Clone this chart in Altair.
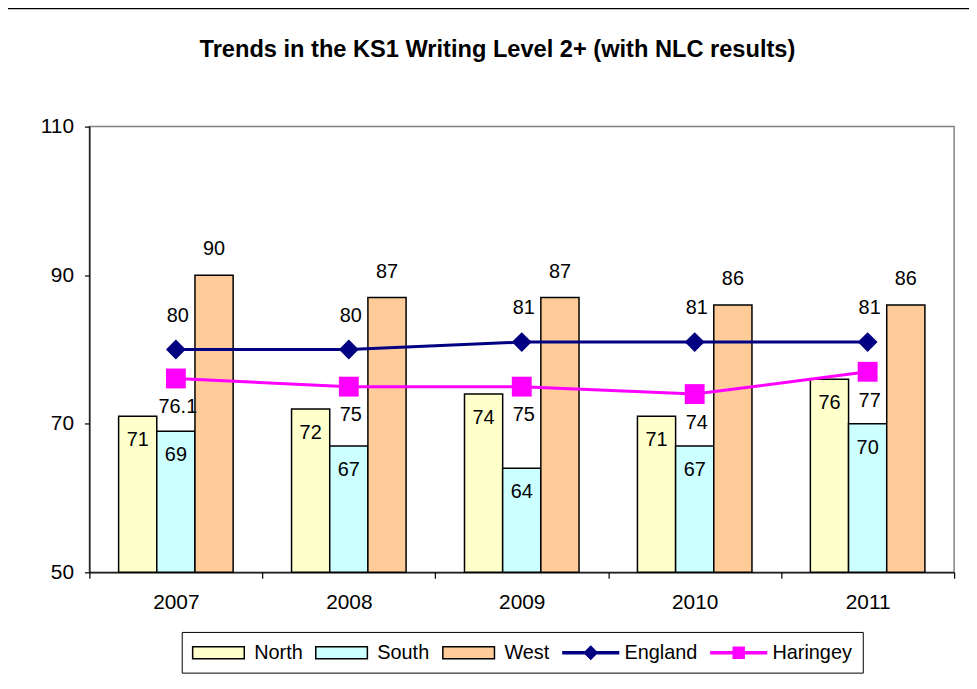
import altair as alt
import pandas as pd

# ---- data ----
years = ["2007", "2008", "2009", "2010", "2011"]
north = [71, 72, 74, 71, 76]
south = [69, 67, 64, 67, 70]
west = [90, 87, 87, 86, 86]
england = [80, 80, 81, 81, 81]
haringey = [76.1, 75, 75, 74, 77]

series_names = ["North", "South", "West", "England", "Haringey"]
bar_series = ["North", "South", "West"]
y_ticks = [50, 70, 90, 110]
y_min, y_max = 50, 110
title_text = "Trends in the KS1 Writing Level 2+ (with NLC results)"

rows = []
for s, vals in zip(series_names, [north, south, west, england, haringey]):
    for yr, v in zip(years, vals):
        rows.append({"year": yr, "series": s, "value": v})
df = pd.DataFrame(rows)

# ---- styles ----
FONT = "Liberation Sans"
fill_colors = ["#FFFFCC", "#CCFFFF", "#FFCC99", "#000080", "#FF00FF"]
stroke_colors = ["#000000", "#000000", "#000000", "#000080", "#FF00FF"]
# legend symbol paths (unit = 10 px at symbolSize 400)
BAR_SYM = "M-1,-0.6H4.2V0.6H-1Z"
legend_shapes = [
    BAR_SYM, BAR_SYM, BAR_SYM,
    "M-1,-0.1H1.25L1.8,-0.65L2.35,-0.1H4.6V0.1H2.35L1.8,0.65L1.25,0.1H-1Z",
    "M-1,-0.1H1.25V-0.55H2.35V-0.1H4.6V0.1H2.35V0.55H1.25V0.1H-1Z",
]

fill_scale = alt.Scale(domain=series_names, range=fill_colors)
stroke_scale = alt.Scale(domain=series_names, range=stroke_colors)
shape_scale = alt.Scale(domain=series_names, range=legend_shapes)
xoff_scale = alt.Scale(domain=bar_series, paddingInner=0, paddingOuter=0.765)

x_enc = alt.X(
    "year:N",
    scale=alt.Scale(domain=years, paddingInner=0, paddingOuter=0),
    axis=alt.Axis(title=None, labelAngle=0, tickBand="extent", tickSize=6,
                  labelPadding=13, labelFontSize=21),
)
y_enc = alt.Y(
    "value:Q",
    scale=alt.Scale(domain=[y_min, y_max], nice=False, zero=False),
    axis=alt.Axis(title=None, values=y_ticks, tickSize=5, labelPadding=11,
                  labelFontSize=21),
)

base = alt.Chart(df).encode(x=x_enc, y=y_enc)
is_bar = alt.FieldOneOfPredicate(field="series", oneOf=bar_series)

legend_def = alt.Legend(
    title=None, orient="none", legendX=93, legendY=509, direction="horizontal",
    labelFontSize=20, labelFont=FONT, labelColor="black", symbolSize=400,
    symbolStrokeWidth=1.5, symbolOpacity=1, labelOffset=41, columnPadding=10,
    padding=10, strokeColor="black", fillColor="white",
)

# legend-only layer (no rows drawn); first so its legend settings win the merge
legend_layer = alt.Chart(df).transform_filter("false").mark_point(
    filled=True, opacity=1, strokeWidth=1.5
).encode(
    fill=alt.Fill("series:N", scale=fill_scale, legend=legend_def),
    stroke=alt.Stroke("series:N", scale=stroke_scale, legend=legend_def),
    shape=alt.Shape("series:N", scale=shape_scale, legend=legend_def),
)

bars = base.transform_filter(is_bar).mark_bar(stroke="black", strokeWidth=1.5).encode(
    y2=alt.datum(y_min),
    xOffset=alt.XOffset("series:N", scale=xoff_scale),
    fill=alt.Fill("series:N", scale=fill_scale, legend=None),
)

lines = base.transform_filter(
    alt.FieldOneOfPredicate(field="series", oneOf=["England", "Haringey"])
).mark_line(strokeWidth=3).encode(
    stroke=alt.Stroke("series:N", scale=stroke_scale, legend=None),
)

eng_pts = base.transform_filter(alt.datum.series == "England").mark_point(
    shape="diamond", filled=True, size=400, opacity=1
).encode(fill=alt.Fill("series:N", scale=fill_scale, legend=None))

har_pts = base.transform_filter(alt.datum.series == "Haringey").mark_point(
    shape="square", filled=True, size=400, opacity=1
).encode(fill=alt.Fill("series:N", scale=fill_scale, legend=None))

ns_lbl = base.transform_filter(
    alt.FieldOneOfPredicate(field="series", oneOf=["North", "South"])
).mark_text(baseline="alphabetic", dy=30, fontSize=20, font=FONT, color="black").encode(
    xOffset=alt.XOffset("series:N", scale=xoff_scale),
    text=alt.Text("value:Q"),
)

w_lbl = base.transform_filter(alt.datum.series == "West").mark_text(
    baseline="alphabetic", dy=-20, fontSize=20, font=FONT, color="black"
).encode(
    xOffset=alt.XOffset("series:N", scale=xoff_scale),
    text=alt.Text("value:Q"),
)

e_lbl = base.transform_filter(alt.datum.series == "England").mark_text(
    baseline="alphabetic", dy=-28, dx=2, fontSize=20, font=FONT, color="black"
).encode(text=alt.Text("value:Q"))

h_lbl = base.transform_filter(alt.datum.series == "Haringey").mark_text(
    baseline="alphabetic", dy=35, dx=2, fontSize=20, font=FONT, color="black"
).encode(text=alt.Text("value:Q"))

frame = alt.Chart(alt.Data(values=[{}])).mark_rect(
    filled=False, stroke="#000000", strokeWidth=1.5
).encode(
    x=alt.value(-84), x2=alt.value(900), y=alt.value(-119), y2=alt.value(600)
)

chart = alt.layer(
    legend_layer, frame, bars, lines, eng_pts, har_pts, ns_lbl, w_lbl, e_lbl, h_lbl
).properties(
    width=871,
    height=449,
    padding={"left": 82, "top": 117, "right": 15, "bottom": 115},
    autosize=alt.AutoSizeParams(type="none"),
    title=alt.Title(title_text, fontSize=23.8, font=FONT, fontWeight="bold",
                    anchor="middle", frame="bounds", baseline="alphabetic",
                    offset=0, dy=73, dx=3, color="black"),
).configure_view(
    stroke="#808080", strokeWidth=1.5
).configure_axis(
    labelFont=FONT, labelColor="black", domainColor="black", tickColor="black",
    grid=False, domainWidth=1.2, tickWidth=1.2,
)

chart.save("out.html", embed_options={"renderer": "svg", "actions": False})
